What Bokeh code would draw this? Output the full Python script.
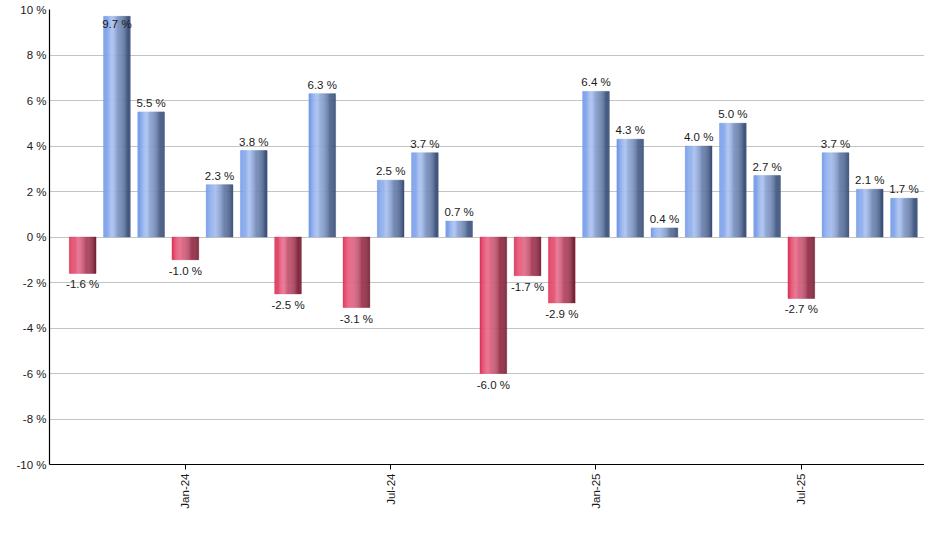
import math
from bokeh.plotting import figure
from bokeh.models import ColumnDataSource, FixedTicker, Range1d
from bokeh.core.properties import value
from bokeh.embed import file_html
from bokeh.resources import INLINE

# ---- data ----
months = ["Oct-23", "Nov-23", "Dec-23", "Jan-24", "Feb-24", "Mar-24", "Apr-24", "May-24",
          "Jun-24", "Jul-24", "Aug-24", "Sep-24", "Oct-24", "Nov-24", "Dec-24", "Jan-25",
          "Feb-25", "Mar-25", "Apr-25", "May-25", "Jun-25", "Jul-25", "Aug-25", "Sep-25", "Oct-25"]
returns = [-1.6, 9.7, 5.5, -1.0, 2.3, 3.8, -2.5, 6.3, -3.1, 2.5, 3.7, 0.7, -6.0, -1.7, -2.9,
           6.4, 4.3, 0.4, 4.0, 5.0, 2.7, -2.7, 3.7, 2.1, 1.7]
x_tick_labels = ["Jan-24", "Jul-24", "Jan-25", "Jul-25"]
y_ticks = [-10, -8, -6, -4, -2, 0, 2, 4, 6, 8, 10]

# ---- styling ----
FONT = "Liberation Sans"
BAR_W = 0.78
N_STRIPS = 24
blue_stops = [(0.0, (112, 152, 232)), (0.33, (172, 196, 242)), (1.0, (56, 76, 116))]
red_stops = [(0.0, (222, 50, 86)), (0.33, (234, 116, 146)), (1.0, (118, 30, 52))]


def grad(stops, t):
    for (t0, c0), (t1, c1) in zip(stops[:-1], stops[1:]):
        if t <= t1:
            f = (t - t0) / (t1 - t0) if t1 > t0 else 0
            c = [round(a + (b - a) * f) for a, b in zip(c0, c1)]
            return "#%02x%02x%02x" % tuple(c)
    return "#%02x%02x%02x" % stops[-1][1]


xs, tops, colors, widths = [], [], [], []
sw = BAR_W / N_STRIPS
for i, v in enumerate(returns):
    stops = blue_stops if v >= 0 else red_stops
    for k in range(N_STRIPS):
        t = (k + 0.5) / N_STRIPS
        xs.append(i - BAR_W / 2 + (k + 0.5) * sw)
        tops.append(v)
        colors.append(grad(stops, t))
        widths.append(sw * 1.02)

strip_src = ColumnDataSource(dict(x=xs, top=tops, color=colors, w=widths))

p = figure(width=924, height=534, output_backend="svg", toolbar_location=None,
           x_range=Range1d(-0.97, 24.6), y_range=Range1d(-10, 10),
           min_border_left=49, min_border_right=0, min_border_top=9, min_border_bottom=70)
p.outline_line_color = None
p.background_fill_color = "white"

p.vbar(x="x", top="top", bottom=0, width="w", fill_color="color", line_color="color",
       line_width=0.4, source=strip_src)

# value labels
above = dict(x=[], y=[], t=[])
inside = dict(x=[], y=[], t=[])
below = dict(x=[], y=[], t=[])
for i, v in enumerate(returns):
    lab = f"{v:.1f} %"
    d = below if v < 0 else (inside if v > 9 else above)
    d["x"].append(i)
    d["y"].append(v)
    d["t"].append(lab)

common = dict(text="t", text_font=value(FONT), text_font_size="11.5px", text_color="#1a1a1a",
              text_align="center")
p.text(x="x", y="y", source=ColumnDataSource(above), text_baseline="bottom", y_offset=-3, **common)
p.text(x="x", y="y", source=ColumnDataSource(inside), text_baseline="top", y_offset=2, **common)
p.text(x="x", y="y", source=ColumnDataSource(below), text_baseline="top", y_offset=5, **common)

# axes
p.yaxis.ticker = FixedTicker(ticks=y_ticks)
p.yaxis.major_label_overrides = {t: f"{t} %" for t in y_ticks}
p.yaxis.major_tick_out = 0
p.yaxis.major_tick_in = 0
p.yaxis.minor_tick_line_color = None
p.yaxis.major_label_standoff = 3

tick_pos = [months.index(m) for m in x_tick_labels]
p.xaxis.ticker = FixedTicker(ticks=tick_pos)
p.xaxis.major_label_overrides = {months.index(m): m for m in x_tick_labels}
p.xaxis.major_label_orientation = math.pi / 2
p.xaxis.major_tick_out = 5
p.xaxis.major_tick_in = 0
p.xaxis.minor_tick_line_color = None
p.xaxis.major_label_standoff = 4

for ax in (p.xaxis, p.yaxis):
    ax.axis_line_color = "black"
    ax.axis_line_width = 1.2
    ax.major_tick_line_color = "black"
    ax.major_label_text_font = FONT
    ax.major_label_text_font_size = "11.5px"
    ax.major_label_text_color = "#1a1a1a"

p.xgrid.grid_line_color = None
p.ygrid.ticker = FixedTicker(ticks=y_ticks)
p.ygrid.grid_line_color = "#c4c4c4"
p.ygrid.grid_line_width = 1

open("out.html", "w").write(file_html(p, INLINE))
